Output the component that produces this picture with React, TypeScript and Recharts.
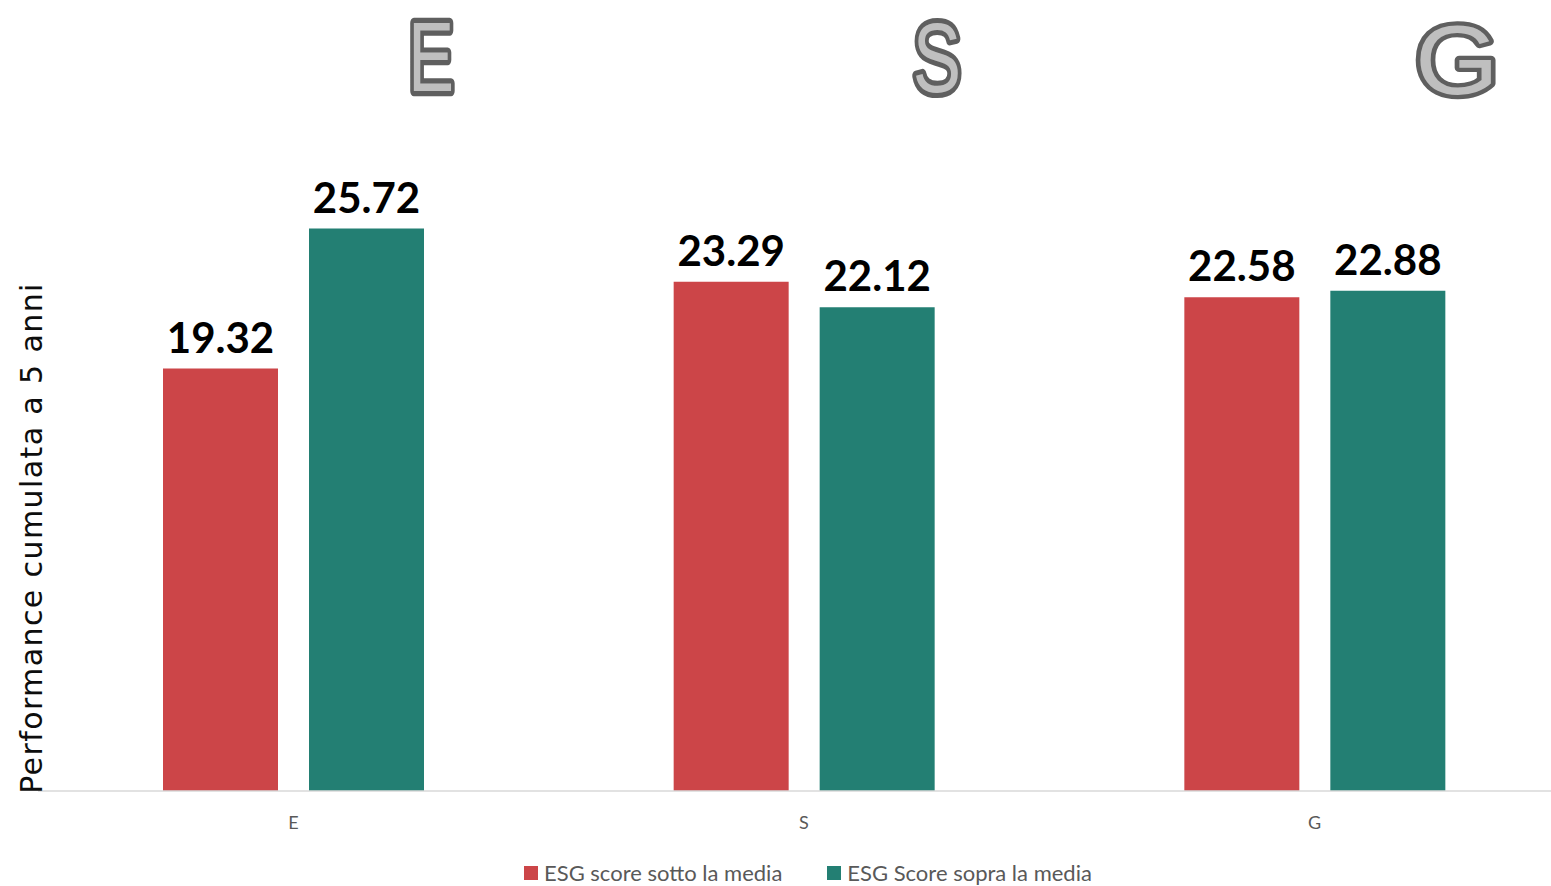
import React from "react";
import { BarChart, Bar, XAxis, YAxis, LabelList } from "recharts";

const categories = ["E", "S", "G"];
const sottoMedia = [19.32, 23.29, 22.58];
const sopraMedia = [25.72, 22.12, 22.88];
const seriesNames = ["ESG score sotto la media", "ESG Score sopra la media"];
const bigLetters = [
  { letter: "E", x: 431, sx: 0.7, base: 91 },
  { letter: "S", x: 937, sx: 0.74, base: 92 },
  { letter: "G", x: 1457, sx: 1.1, base: 94 },
];

const RED = "#CC4548";
const TEAL = "#237F73";
const GREY_TEXT = "#595959";

const data = categories.map((cat, i) => ({
  cat,
  sotto: sottoMedia[i],
  sopra: sopraMedia[i],
}));

const labelStyle = {
  fill: "#000000",
  fontSize: 42,
  fontWeight: 700,
  fontFamily: "Lato, sans-serif",
};

export default function App() {
  return (
    <div
      style={{
        position: "relative",
        width: 1551,
        height: 886,
        overflow: "hidden",
        background: "#ffffff",
      }}
    >
      <style>{`body { margin: 0; }`}</style>

      <BarChart
        width={1570}
        height={886}
        data={data}
        margin={{ top: 135, right: 0, bottom: 65, left: 38 }}
        barSize={115}
        barGap={31}
      >
        <XAxis
          dataKey="cat"
          height={30}
          axisLine={{ stroke: "#D9D9D9", strokeWidth: 1.5 }}
          tickLine={false}
          tickSize={0}
          tickMargin={25}
          tick={{ fill: GREY_TEXT, fontSize: 18, fontFamily: "Lato, sans-serif" }}
        />
        <YAxis hide domain={[0, 30]} />
        <Bar dataKey="sotto" name={seriesNames[0]} fill={RED} isAnimationActive={false}>
          <LabelList
            dataKey="sotto"
            position="top"
            offset={16}
            formatter={(v: number) => v.toFixed(2)}
            style={labelStyle}
          />
        </Bar>
        <Bar dataKey="sopra" name={seriesNames[1]} fill={TEAL} isAnimationActive={false}>
          <LabelList
            dataKey="sopra"
            position="top"
            offset={16}
            formatter={(v: number) => v.toFixed(2)}
            style={labelStyle}
          />
        </Bar>
      </BarChart>

      {/* decorative outlined letters above each group */}
      <svg
        width={1551}
        height={125}
        style={{ position: "absolute", left: 0, top: 0, pointerEvents: "none" }}
      >
        {bigLetters.map((b) => (
          <text
            key={b.letter}
            transform={`translate(${b.x}, ${b.base}) scale(${b.sx}, 1)`}
            x={0}
            y={0}
            textAnchor="middle"
            fontFamily="'Liberation Sans', Arial, sans-serif"
            fontWeight={400}
            fontSize={98}
            fill="#BFBFBF"
            stroke="#5F5F5F"
            strokeWidth={9}
            strokeLinejoin="round"
            vectorEffect="non-scaling-stroke"
            style={{ paintOrder: "stroke" }}
          >
            {b.letter}
          </text>
        ))}
      </svg>

      {/* y axis title */}
      <div
        style={{
          position: "absolute",
          left: 31,
          top: 538,
          transform: "translate(-50%, -50%) rotate(-90deg)",
          whiteSpace: "nowrap",
          fontFamily: "'DejaVu Sans', sans-serif",
          fontSize: 30,
          letterSpacing: 1.4,
          color: "#0D0D0D",
        }}
      >
        Performance cumulata a 5 anni
      </div>

      {/* legend */}
      <div
        style={{
          position: "absolute",
          left: 524,
          top: 862,
          display: "flex",
          alignItems: "center",
          gap: 45,
          fontFamily: "Lato, sans-serif",
          fontSize: 22,
          lineHeight: "22px",
          color: GREY_TEXT,
          whiteSpace: "nowrap",
        }}
      >
        {seriesNames.map((name, i) => (
          <div key={name} style={{ display: "flex", alignItems: "center", gap: 6 }}>
            <span
              style={{
                display: "inline-block",
                width: 14,
                height: 14,
                background: i === 0 ? RED : TEAL,
              }}
            />
            <span>{name}</span>
          </div>
        ))}
      </div>
    </div>
  );
}
